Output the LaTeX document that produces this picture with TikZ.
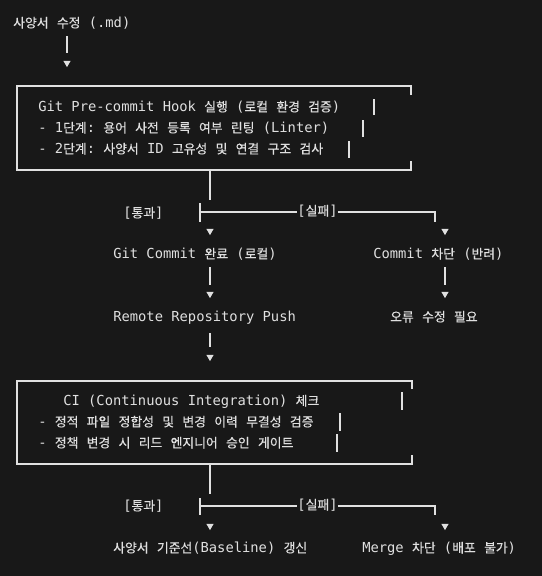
\documentclass[tikz,border=0pt]{standalone}
\usepackage{fontspec}
\usepackage{tikz}
\usetikzlibrary{shapes.geometric}
\setmainfont{DejaVu Sans Mono}
\newfontfamily\kofont{Noto Sans CJK KR}[Scale=0.93,FakeBold=0.35]
\newcommand{\ko}[1]{{\kofont #1}}
\definecolor{bgc}{RGB}{24,24,24}
\definecolor{inkc}{RGB}{224,224,224}
\frenchspacing
\begin{document}
\begin{tikzpicture}[x=0.75pt,y=0.75pt,yscale=-1,xscale=1,
  txt/.style={anchor=west,inner sep=0pt,text height=7.5pt,text depth=2.25pt,text=inkc,font=\fontsize{10.34}{12}\selectfont},
  tri/.style={regular polygon,regular polygon sides=3,shape border rotate=180,fill=inkc,inner sep=0pt,minimum size=6.2pt},
  wire/.style={draw=inkc,line width=0.9pt}]
\useasboundingbox (0,0) rectangle (542,576);
\fill [bgc] (0,0) rectangle (542,576);

% Text Node
\node [txt] (spec) at (13,24) {\ko{사양서} \ko{수정} (.md)};
% Text Node
\node [txt] (hookA) at (38,108) {Git Pre-commit Hook \ko{실행} (\ko{로컬} \ko{환경} \ko{검증})};
\node [txt] (hookB) at (38,129) {- 1\ko{단계}: \ko{용어} \ko{사전} \ko{등록} \ko{여부} \ko{린팅} (Linter)};
\node [txt] (hookC) at (38,150) {- 2\ko{단계}: \ko{사양서} ID \ko{고유성} \ko{및} \ko{연결} \ko{구조} \ko{검사}};
% Text Node
\node [txt] (passA) at (123,214) {[\ko{통과}]};
\node [txt,anchor=center] (failA) at (317.5,212) {[\ko{실패}]};
% Text Node
\node [txt] (commit) at (113,255) {Git Commit \ko{완료} (\ko{로컬})};
\node [txt] (reject) at (373,255) {Commit \ko{차단} (\ko{반려})};
% Text Node
\node [txt] (push) at (113,318) {Remote Repository Push};
\node [txt] (fix) at (390,318) {\ko{오류} \ko{수정} \ko{필요}};
% Text Node
\node [txt] (ciA) at (63,402) {CI (Continuous Integration) \ko{체크}};
\node [txt] (ciB) at (38,423) {- \ko{정적} \ko{파일} \ko{정합성} \ko{및} \ko{변경} \ko{이력} \ko{무결성} \ko{검증}};
\node [txt] (ciC) at (38,444) {- \ko{정책} \ko{변경} \ko{시} \ko{리드} \ko{엔지니어} \ko{승인} \ko{게이트}};
% Text Node
\node [txt] (passB) at (123,507) {[\ko{통과}]};
\node [txt,anchor=center] (failB) at (317.5,506) {[\ko{실패}]};
% Text Node
\node [txt] (baseline) at (113,549) {\ko{사양서} \ko{기준선}(Baseline) \ko{갱신}};
\node [txt] (merge) at (362,549) {Merge \ko{차단} (\ko{배포} \ko{불가})};

%Shape: Triangle
\node [tri] (arr0) at (67,63) {};
\node [tri] (arr1) at (210,231) {};
\node [tri] (arr2) at (445,231) {};
\node [tri] (arr3) at (210,294) {};
\node [tri] (arr4) at (445,294) {};
\node [tri] (arr5) at (210,357) {};
\node [tri] (arr6) at (210,526) {};
\node [tri] (arr7) at (445,526) {};

%Shape: Box
\coordinate (hookNW) at (17,86);
\coordinate (hookSE) at (411,170);
\draw [wire] (hookNW -| hookSE) ++(0,9) -- (hookNW -| hookSE) -- (hookNW) -- (hookNW |- hookSE) -- (hookSE) -- ++(0,-9);
\draw [wire] (374,99) -- (374,115);
\draw [wire] (363,120) -- (363,137);
\draw [wire] (349,141) -- (349,158);
%Shape: Box
\coordinate (ciNW) at (17,381);
\coordinate (ciSE) at (412,464);
\draw [wire] (ciNW -| ciSE) ++(0,8) -- (ciNW -| ciSE) -- (ciNW) -- (ciNW |- ciSE) -- (ciSE) -- ++(0,-9);
\draw [wire] (402,392) -- (402,410);
\draw [wire] (340,413) -- (340,431);
\draw [wire] (337,434) -- (337,452);

%Straight Lines
\draw [wire,shorten <=4.1pt,shorten >=6pt] (spec.south -| arr0) -- (arr0.north);
%Straight Lines
\coordinate (hookOut) at (210,170);
\draw [wire,shorten >=5.6pt] (hookOut) -- (hookOut |- passA.north);
\coordinate (teeA) at (200,212);
\coordinate (cornerA) at (435,222);
\draw [wire] (teeA) ++(0,-9) -- ++(0,19);
\draw [wire] (teeA) -- (failA.west);
\draw [wire] (failA.east) -| (cornerA);
%Straight Lines
\draw [wire,shorten <=4.1pt,shorten >=5.3pt] (commit.south -| arr3) -- (arr3.north);
\draw [wire,shorten <=4.1pt,shorten >=5.3pt] (reject.south -| arr4) -- (arr4.north);
%Straight Lines
\draw [wire,shorten <=6.4pt,shorten >=6pt] (push.south -| arr5) -- (arr5.north);
%Straight Lines
\coordinate (ciOut) at (210,464);
\draw [wire,shorten >=4.9pt] (ciOut) -- (ciOut |- passB.north);
\coordinate (teeB) at (200,506);
\coordinate (cornerB) at (435,515);
\draw [wire] (teeB) ++(0,-8) -- ++(0,17);
\draw [wire] (teeB) -- (failB.west);
\draw [wire] (failB.east) -| (cornerB);

\end{tikzpicture}
\end{document}
